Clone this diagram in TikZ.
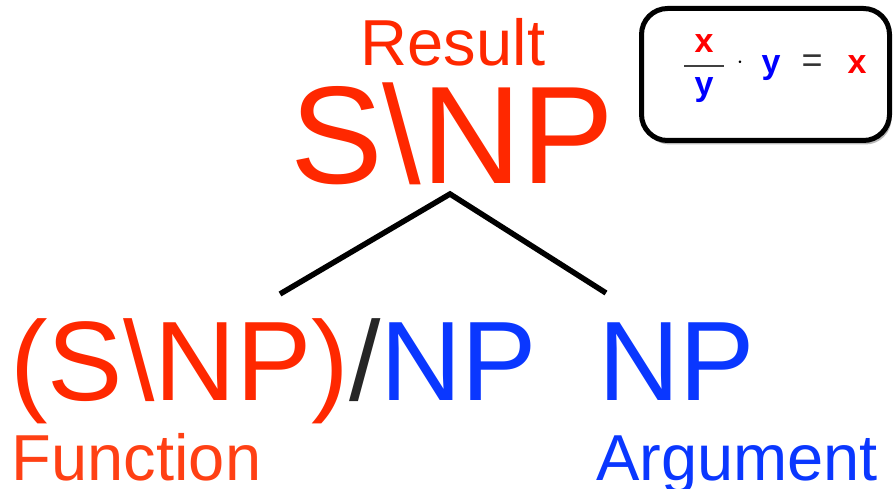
\documentclass[tikz,border=0pt]{standalone}
\usepackage{fontspec}
\setmainfont{Liberation Sans}
\usetikzlibrary{shadows}
\definecolor{cred}{RGB}{255,40,0}
\definecolor{cfun}{RGB}{255,64,20}
\definecolor{cblue}{RGB}{10,55,255}
\definecolor{bred}{RGB}{255,0,0}
\definecolor{bblue}{RGB}{0,0,255}
\tikzset{
  txt/.style={inner sep=0pt, outer sep=0pt},
  big/.style={txt, font=\fontsize{139}{139}\selectfont},
  mid/.style={txt, font=\fontsize{113}{113}\selectfont},
  lab/.style={txt, font=\fontsize{65}{65}\selectfont},
  eq/.style={txt, font=\fontsize{34}{34}\selectfont\bfseries},
  branch/.style={line width=5.5pt, black},
  rulebox/.style={draw=black, line width=5pt, rounded corners=26pt, fill=white,
    drop shadow={shadow xshift=2pt, shadow yshift=-4pt, opacity=0.5, fill=black!55}}
}
\begin{document}
\begin{tikzpicture}[x=1pt,y=-1pt]
\useasboundingbox (0,0) rectangle (893,489);
\fill[white] (0,0) rectangle (893,489);
% top
\node[lab, text=cred, anchor=base, text depth=0pt] (result) at (453,66) {Result};
\node[big, text=cred, anchor=base west] (top) at (290,183) {S\textbackslash NP};
% bottom
\node[mid, anchor=base west] (fun) at (10,400) {\textcolor{cred}{(S\textbackslash NP)}\textcolor{black!85}{/}\textcolor{cblue}{NP}};
\node[mid, text=cblue, anchor=base west] (arg) at (598,400) {NP};
\node[lab, text=cfun, anchor=base west] (funlab) at (12,480) {Function};
\node[lab, text=cblue, anchor=base west] (arglab) at (596,480) {Argument};
% branches
\coordinate (apex) at (450,194);
\coordinate (lf) at (280,294);
\coordinate (rt) at (606,293);
\draw[branch] (lf) -- (apex) -- (rt);
% rule box
\node[rulebox, minimum width=248pt, minimum height=132pt, anchor=north west] (box) at (639,6) {};
\node[eq, text=bred] (nx) at (704,44) {x};
\node[eq, text=bblue] (ny) at (704,90) {y};
\coordinate (bl) at (684,66);
\coordinate (br) at (724,66);
\draw[line width=1.8pt, black!75] (bl) -- (br);
\node[txt, font=\fontsize{30}{30}\selectfont] (dot) at (740,63) {$\cdot$};
\node[eq, text=bblue] (y2) at (771,68) {y};
\node[txt, font=\fontsize{36}{36}\selectfont, text=black!80] (eqs) at (812,64) {=};
\node[eq, text=bred] (x2) at (857,65) {x};
\end{tikzpicture}
\end{document}
